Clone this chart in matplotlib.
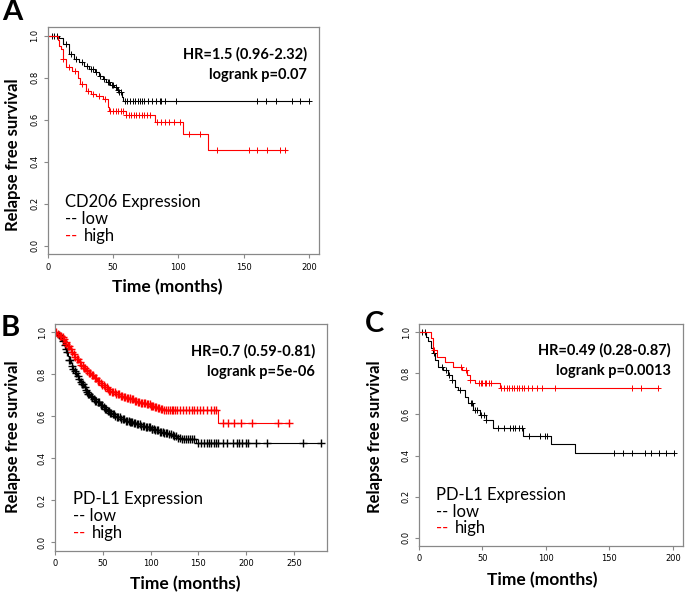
import numpy as np
import matplotlib.pyplot as plt

# ---- panel A : CD206 ----
a_low_t = [0, 9, 11.5, 16.6, 20, 24, 28, 32, 36, 39.6, 42, 44.7, 48, 51, 53, 55, 57, 58]
a_low_s = [1.0, 0.99, 0.96, 0.913, 0.89, 0.873, 0.857, 0.841, 0.825, 0.81, 0.795, 0.778, 0.765, 0.754, 0.742, 0.73, 0.71, 0.687]
a_low_end = 200
a_low_c = [3, 5, 7, 14, 18, 22, 26, 30, 33, 35, 37, 40, 43, 46, 47, 49, 50, 52, 54, 55, 56,
           59, 61, 63, 65, 67, 69, 71, 72, 74, 77, 80, 83, 86, 87, 90, 98, 160, 167, 175, 187, 193, 200]
a_high_t = [0, 7.7, 9, 10, 11.5, 14, 19, 23, 24.5, 29, 33, 37, 42, 46, 47, 60, 82, 103.5, 122.6]
a_high_s = [1.0, 0.98, 0.95, 0.937, 0.889, 0.849, 0.833, 0.80, 0.77, 0.738, 0.725, 0.714, 0.698, 0.659, 0.64, 0.625, 0.59, 0.53, 0.455]
a_high_end = 183
a_high_c = [12, 16, 21, 26, 31, 35, 39, 44, 48, 50, 52, 54, 56, 58, 60, 62, 64, 66, 68, 70, 72, 74, 76, 78,
            84, 87, 90, 93, 97, 101, 108, 117, 130, 154, 160, 168, 178, 182]

# ---- panel B : PD-L1 (large cohort) ----
b_low_t = [0, 3, 5.3, 7, 9, 11, 12.3, 14, 15, 16.5, 17.6, 19, 20, 21.5, 22.9, 24.5, 26, 28, 30, 31.5, 33, 35, 37,
           38.5, 40, 42, 44, 47, 50, 52, 54.6, 57, 60, 62.5, 65, 69, 73, 78, 82.7, 86, 90, 95, 100, 105, 110,
           114, 118, 122, 125, 128, 132, 148]
b_low_s = [1.0, 0.988, 0.976, 0.958, 0.94, 0.922, 0.905, 0.888, 0.87, 0.855, 0.841, 0.828, 0.815, 0.805, 0.794,
           0.78, 0.765, 0.752, 0.738, 0.728, 0.718, 0.708, 0.698, 0.69, 0.683, 0.675, 0.667, 0.656, 0.645, 0.636,
           0.627, 0.618, 0.61, 0.602, 0.595, 0.587, 0.58, 0.574, 0.568, 0.562, 0.556, 0.548, 0.54, 0.533, 0.527,
           0.521, 0.516, 0.51, 0.505, 0.498, 0.492, 0.473]
b_low_end = 278
b_low_c = [4, 6, 8, 10, 12, 13, 15, 16, 18, 19, 21, 22, 24, 25, 27, 28, 29, 31, 32, 34, 35, 36, 38, 39, 41,
           42, 43, 45, 46, 48, 49, 51, 52, 53, 55, 56, 58, 59, 61, 62, 63, 65, 66, 68, 69, 71, 72, 74, 75,
           77, 78, 80, 81, 83, 84, 86, 87, 89, 90, 92, 93, 95, 96, 98, 99, 101, 102, 104, 105, 107, 108, 110,
           111, 113, 114, 116, 117, 119, 121, 123, 125, 127, 129, 131, 133, 135, 137, 139, 141, 143, 145,
           150, 153, 156, 159, 161, 163, 166, 168, 171, 176, 180, 186, 190, 193, 196, 200, 202, 210, 222, 260, 278]
b_high_t = [0, 2, 4, 6.5, 8.8, 10.5, 12, 14, 15.8, 17.5, 19, 21, 22.9, 25, 27, 28.5, 30, 32, 33.5, 36, 38, 41, 44,
            46.5, 49, 52, 54.6, 57, 60, 64, 68.7, 72, 75, 79, 82.7, 86, 90, 95, 100, 104, 107, 110, 114, 171]
b_high_s = [1.0, 0.992, 0.985, 0.977, 0.968, 0.956, 0.945, 0.933, 0.921, 0.909, 0.897, 0.885, 0.873, 0.859, 0.845,
            0.838, 0.83, 0.823, 0.817, 0.806, 0.795, 0.782, 0.77, 0.76, 0.75, 0.74, 0.73, 0.722, 0.715, 0.706,
            0.698, 0.692, 0.687, 0.681, 0.675, 0.67, 0.664, 0.658, 0.651, 0.646, 0.641, 0.636, 0.63, 0.568]
b_high_end = 245
b_high_c = [1, 3, 5, 6, 8, 9, 11, 12, 14, 15, 17, 18, 20, 21, 23, 24, 26, 27, 29, 30, 31, 33, 34, 36, 37, 39,
            40, 42, 43, 45, 46, 48, 49, 51, 52, 54, 55, 57, 58, 60, 61, 63, 64, 66, 67, 69, 70, 72, 73, 75, 76,
            78, 79, 81, 82, 84, 85, 87, 88, 90, 91, 93, 94, 96, 97, 99, 100, 102, 103, 105, 106, 108, 109,
            111, 112, 114, 116, 118, 120, 122, 124, 126, 128, 131, 134, 137, 140, 143, 146, 149, 152, 155,
            159, 163, 166, 169, 176, 181, 187, 195, 206, 233, 245]

# ---- panel C : PD-L1 (small cohort) ----
c_low_t = [0, 5.5, 7.3, 9.2, 10.7, 12.6, 15.2, 19, 23, 25.7, 28.3, 31, 36, 38.8, 42.7, 48, 53, 58, 82, 104.3, 123]
c_low_s = [1.0, 0.979, 0.955, 0.922, 0.898, 0.865, 0.833, 0.817, 0.792, 0.768, 0.735, 0.719, 0.687, 0.654, 0.622,
           0.597, 0.573, 0.532, 0.497, 0.456, 0.414]
c_low_end = 201
c_low_c = [2, 5, 12, 18, 21, 24, 26, 32, 41, 42, 44, 46, 49, 51, 53, 62, 67, 72, 74, 76, 79, 81, 87, 95, 99, 101,
           154, 161, 168, 178, 183, 189, 195, 201]
c_high_t = [0, 9.2, 11.3, 13.9, 20.4, 27, 33.5, 37.5, 40, 44, 63.7]
c_high_s = [1.0, 0.971, 0.912, 0.881, 0.857, 0.833, 0.817, 0.792, 0.768, 0.752, 0.727]
c_high_end = 188
c_high_c = [12, 33, 37, 40, 47, 49, 50, 52, 53, 55, 57, 65, 67, 69, 71, 73, 75, 77, 79, 81, 83, 86, 89, 93, 97,
            107, 168, 175, 188]

# rect in figure fraction, label/letter positions in figure fraction
panels = [
    dict(label='A', rect=[0.0696, 0.572, 0.3965, 0.382], xmax=208, xticks=[0, 50, 100, 150, 200],
         letter=(0.0175, 0.98), xl=(0.2438, 0.517), yl=(0.019, 0.739), ms=5, mew=0.7,
         hr='HR=1.5 (0.96-2.32)', p='logrank p=0.07', gene='CD206 Expression',
         low=(a_low_t, a_low_s, a_low_end, a_low_c), high=(a_high_t, a_high_s, a_high_end, a_high_c)),
    dict(label='B', rect=[0.0803, 0.0729, 0.3975, 0.3816], xmax=285, xticks=[0, 50, 100, 150, 200, 250],
         letter=(0.0146, 0.448), xl=(0.27, 0.017), yl=(0.019, 0.2643), ms=6, mew=1.0,
         hr='HR=0.7 (0.59-0.81)', p='logrank p=5e-06', gene='PD-L1 Expression',
         low=(b_low_t, b_low_s, b_low_end, b_low_c), high=(b_high_t, b_high_s, b_high_end, b_high_c)),
    dict(label='C', rect=[0.6117, 0.0808, 0.3853, 0.3737], xmax=208, xticks=[0, 50, 100, 150, 200],
         letter=(0.547, 0.4545), xl=(0.7912, 0.0236), yl=(0.5474, 0.2643), ms=5, mew=0.7,
         hr='HR=0.49 (0.28-0.87)', p='logrank p=0.0013', gene='PD-L1 Expression',
         low=(c_low_t, c_low_s, c_low_end, c_low_c), high=(c_high_t, c_high_s, c_high_end, c_high_c)),
]

txtfont = ['Lato', 'DejaVu Sans']
fig = plt.figure(figsize=(6.85, 5.94), dpi=100)


def km(ax, t, s, end, cens, color, ms, mew):
    tt = list(t) + [end]
    ss = list(s) + [s[-1]]
    ax.step(tt, ss, where='post', color=color, lw=0.8)
    idx = np.searchsorted(np.array(t), np.array(cens), side='right') - 1
    ax.plot(cens, np.array(s)[idx], '+', color=color, ms=ms, mew=mew)


for p in panels:
    ax = fig.add_axes(p['rect'])
    km(ax, *p['low'], 'black', p['ms'], p['mew'])
    km(ax, *p['high'], 'red', p['ms'], p['mew'])
    ax.set_xlim(0, p['xmax'])
    ax.set_ylim(-0.04, 1.04)
    ax.set_xticks(p['xticks'])
    ax.set_yticks([0, 0.2, 0.4, 0.6, 0.8, 1.0])
    ax.set_yticklabels(['0.0', '0.2', '0.4', '0.6', '0.8', '1.0'], rotation=90, va='center')
    ax.tick_params(labelsize=6, length=3, color='#888888', width=0.8, pad=3)
    for sp in ax.spines.values():
        sp.set_color('#888888')
        sp.set_linewidth(0.9)
    fig.text(*p['xl'], 'Time (months)', fontsize=12.5, fontweight='bold', family=txtfont,
             ha='center', va='center')
    fig.text(*p['yl'], 'Relapse free survival', fontsize=12, fontweight='bold', family=txtfont,
             ha='center', va='center', rotation=90)
    ax.text(0.955, 0.88, p['hr'], transform=ax.transAxes, ha='right', va='center',
            fontsize=10.5, fontweight='bold', family=txtfont)
    ax.text(0.955, 0.79, p['p'], transform=ax.transAxes, ha='right', va='center',
            fontsize=10.5, fontweight='bold', family=txtfont)
    ax.text(0.065, 0.23, p['gene'], transform=ax.transAxes, fontsize=12, family=txtfont, va='center')
    ax.text(0.065, 0.155, '-- low', transform=ax.transAxes, fontsize=12, family=txtfont, va='center')
    ax.text(0.065, 0.08, '--', transform=ax.transAxes, fontsize=12, family=txtfont, va='center', color='red')
    ax.text(0.135, 0.08, 'high', transform=ax.transAxes, fontsize=12, family=txtfont, va='center')
    fig.text(*p['letter'], p['label'], fontsize=21, fontweight='bold', family=txtfont,
             va='center', ha='center')

fig.savefig('out.png', dpi=100)
